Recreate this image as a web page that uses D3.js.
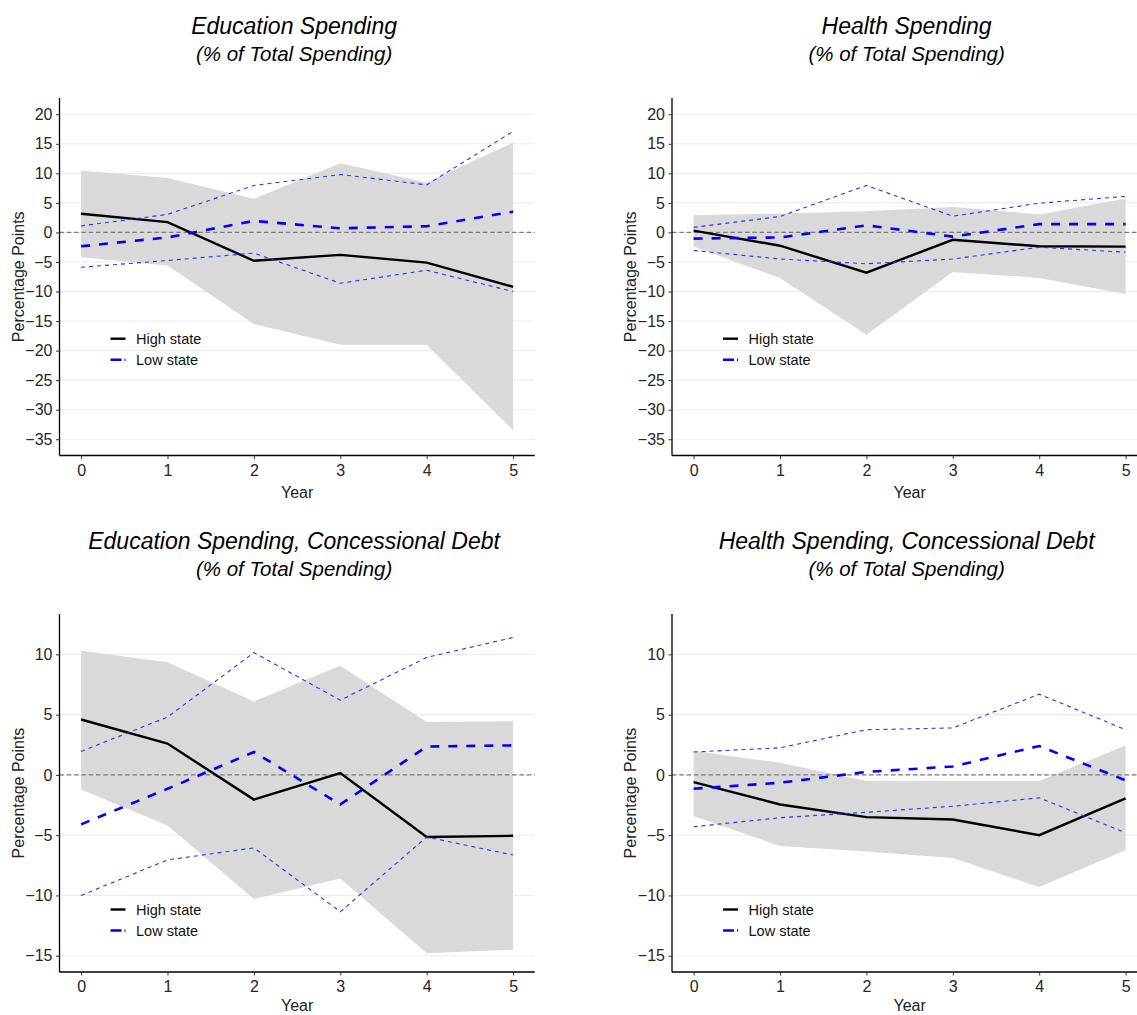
<!DOCTYPE html>
<html>
<head>
<meta charset="utf-8">
<script src="https://cdn.jsdelivr.net/npm/d3@7"></script>
<style>
  body { margin: 0; background: #fff; }
  text { font-family: "Liberation Sans", Arial, sans-serif; }
</style>
</head>
<body>
<script>
// data
const years = [0, 1, 2, 3, 4, 5];

const topTicks = [20, 15, 10, 5, 0, -5, -10, -15, -20, -25, -30, -35];
const bottomTicks = [10, 5, 0, -5, -10, -15];

// Education Spending
const eduHigh   = [3.15, 1.75, -4.8, -3.8, -5.1, -9.2];
const eduHighLo = [-4.2, -5.6, -15.5, -19.0, -19.0, -33.5];
const eduHighUp = [10.5, 9.2, 5.7, 11.7, 8.4, 15.2];
const eduLow    = [-2.35, -0.85, 1.95, 0.7, 1.05, 3.5];
const eduLowLo  = [-5.9, -4.75, -3.5, -8.6, -6.4, -10.0];
const eduLowUp  = [1.1, 3.05, 7.95, 9.8, 8.05, 17.1];

// Health Spending
const healthHigh   = [0.3, -2.25, -6.8, -1.25, -2.35, -2.4];
const healthHighLo = [-2.4, -7.7, -17.3, -6.7, -7.7, -10.4];
const healthHighUp = [2.9, 3.2, 3.6, 4.3, 3.05, 5.75];
const healthLow    = [-1.05, -0.85, 1.2, -0.7, 1.4, 1.4];
const healthLowLo  = [-3.05, -4.5, -5.3, -4.5, -2.5, -3.35];
const healthLowUp  = [0.85, 2.7, 7.95, 2.75, 4.95, 6.1];

// Education Spending, Concessional Debt
const eduConHigh   = [4.6, 2.6, -2.05, 0.15, -5.15, -5.05];
const eduConHighLo = [-1.2, -4.2, -10.3, -8.6, -14.8, -14.5];
const eduConHighUp = [10.3, 9.35, 6.1, 9.05, 4.4, 4.45];
const eduConLow    = [-4.1, -1.15, 1.9, -2.45, 2.35, 2.45];
const eduConLowLo  = [-10.0, -7.05, -6.05, -11.35, -5.15, -6.65];
const eduConLowUp  = [1.95, 4.8, 10.15, 6.2, 9.75, 11.4];

// Health Spending, Concessional Debt
const healthConHigh   = [-0.6, -2.45, -3.5, -3.7, -5.0, -1.95];
const healthConHighLo = [-3.4, -5.9, -6.35, -6.9, -9.3, -6.25];
const healthConHighUp = [2.0, 1.0, -0.5, -0.5, -0.5, 2.45];
const healthConLow    = [-1.15, -0.65, 0.25, 0.7, 2.4, -0.45];
const healthConLowLo  = [-4.3, -3.55, -3.1, -2.6, -1.9, -4.8];
const healthConLowUp  = [1.9, 2.25, 3.75, 3.9, 6.7, 3.75];

const titles = [
    "Education Spending",
    "Health Spending",
    "Education Spending, Concessional Debt",
    "Health Spending, Concessional Debt"
];
const subtitle = "(% of Total Spending)";
const legendLabels = ["High state", "Low state"];

const svg = d3.select("body")
    .append("svg")
    .attr("width", 1137)
    .attr("height", 1015);

const panels = [
    { title: titles[0], left: 59.5, top: 98, bottom: 455.5, domain: [-37.75, 22.75], ticks: topTicks,
      high: eduHigh, highLo: eduHighLo, highUp: eduHighUp, low: eduLow, lowLo: eduLowLo, lowUp: eduLowUp,
      titleY: 34, legendY: 338.7, yearOff: 42 },
    { title: titles[1], left: 672, top: 98, bottom: 455.5, domain: [-37.75, 22.75], ticks: topTicks,
      high: healthHigh, highLo: healthHighLo, highUp: healthHighUp, low: healthLow, lowLo: healthLowLo, lowUp: healthLowUp,
      titleY: 34, legendY: 338.7, yearOff: 42 },
    { title: titles[2], left: 59.5, top: 614, bottom: 972, domain: [-16.35, 13.35], ticks: bottomTicks,
      high: eduConHigh, highLo: eduConHighLo, highUp: eduConHighUp, low: eduConLow, lowLo: eduConLowLo, lowUp: eduConLowUp,
      titleY: 549, legendY: 909.5, yearOff: 38.5 },
    { title: titles[3], left: 672, top: 614, bottom: 972, domain: [-16.35, 13.35], ticks: bottomTicks,
      high: healthConHigh, highLo: healthConHighLo, highUp: healthConHighUp, low: healthConLow, lowLo: healthConLowLo, lowUp: healthConLowUp,
      titleY: 549, legendY: 909.5, yearOff: 38.5 }
];

const plotWidth = 475.2;

function drawPanel(p) {
    const x = d3.scaleLinear().domain([-0.25, 5.25]).range([p.left, p.left + plotWidth]);
    const y = d3.scaleLinear().domain(p.domain).range([p.bottom, p.top]);
    const g = svg.append("g");

    // grid
    g.selectAll(".grid")
        .data(p.ticks)
        .enter()
        .append("line")
        .attr("x1", p.left)
        .attr("x2", p.left + plotWidth)
        .attr("y1", d => y(d))
        .attr("y2", d => y(d))
        .attr("stroke", "#ebebeb")
        .attr("stroke-width", 1.1);

    const pts = years.map((yr, i) => ({ yr: yr, hi: p.high[i], hlo: p.highLo[i], hup: p.highUp[i],
        lo: p.low[i], llo: p.lowLo[i], lup: p.lowUp[i] }));

    const area = d3.area()
        .x(d => x(d.yr))
        .y0(d => y(d.hlo))
        .y1(d => y(d.hup));

    g.append("path")
        .datum(pts)
        .attr("d", area)
        .attr("fill", "#d9d9d9");

    // zero line
    g.append("line")
        .attr("x1", p.left)
        .attr("x2", p.left + plotWidth)
        .attr("y1", y(0))
        .attr("y2", y(0))
        .attr("stroke", "#7a7a7a")
        .attr("stroke-width", 1.3)
        .attr("stroke-dasharray", "4.5,2.8");

    const line = key => d3.line().x(d => x(d.yr)).y(d => y(d[key]));

    g.append("path").datum(pts).attr("d", line("hi"))
        .attr("fill", "none").attr("stroke", "#000").attr("stroke-width", 2.4);

    ["llo", "lup"].forEach(k => {
        g.append("path").datum(pts).attr("d", line(k))
            .attr("fill", "none").attr("stroke", "#2f2fff").attr("stroke-width", 1.1)
            .attr("stroke-dasharray", "4,4");
    });

    g.append("path").datum(pts).attr("d", line("lo"))
        .attr("fill", "none").attr("stroke", "#0000ff").attr("stroke-width", 2.6)
        .attr("stroke-dasharray", "9,9");

    // axes
    const yAxis = g.append("g")
        .attr("transform", `translate(${p.left}, 0)`)
        .call(d3.axisLeft(y).tickValues(p.ticks).tickSize(3.5).tickPadding(3.5).tickFormat(d3.format("d")));
    const xAxis = g.append("g")
        .attr("transform", `translate(0, ${p.bottom})`)
        .call(d3.axisBottom(x).tickValues(years).tickSize(3.5).tickPadding(5.5).tickFormat(d3.format("d")));

    [xAxis, yAxis].forEach(a => {
        a.select(".domain").attr("stroke", "#000").attr("stroke-width", 1.3);
        a.selectAll(".tick line").attr("stroke", "#333").attr("stroke-width", 1);
        a.selectAll(".tick text")
            .attr("fill", "#262626")
            .style("font-size", "16px")
            .style("font-family", "'Liberation Sans', Arial, sans-serif");
    });
    // d3 domain path adds outer ticks; flatten them
    yAxis.select(".domain").attr("d", `M0,${p.top}V${p.bottom}`);
    xAxis.select(".domain").attr("d", `M${p.left},0H${p.left + plotWidth}`);

    // titles
    const cx = p.left + plotWidth / 2 - 3;
    g.append("text")
        .attr("x", cx)
        .attr("y", p.titleY)
        .attr("text-anchor", "middle")
        .style("font-size", "23px")
        .style("font-style", "italic")
        .attr("fill", "#000")
        .text(p.title);
    g.append("text")
        .attr("x", cx)
        .attr("y", p.titleY + 27)
        .attr("text-anchor", "middle")
        .style("font-size", "20.5px")
        .style("font-style", "italic")
        .attr("fill", "#000")
        .text(subtitle);

    g.append("text")
        .attr("x", x(2.5))
        .attr("y", p.bottom + p.yearOff)
        .attr("text-anchor", "middle")
        .style("font-size", "16px")
        .attr("fill", "#222")
        .text("Year");

    g.append("text")
        .attr("transform", `translate(${p.left - 36}, ${(p.top + p.bottom) / 2}) rotate(-90)`)
        .attr("text-anchor", "middle")
        .style("font-size", "16px")
        .attr("fill", "#222")
        .text("Percentage Points");

    // legend
    const lg = g.append("g").attr("transform", `translate(${p.left + 51}, ${p.legendY})`);
    lg.append("line").attr("x1", 0).attr("x2", 15).attr("y1", 0).attr("y2", 0)
        .attr("stroke", "#000").attr("stroke-width", 2.4);
    lg.append("line").attr("x1", 0).attr("x2", 15).attr("y1", 21).attr("y2", 21)
        .attr("stroke", "#0000ff").attr("stroke-width", 2.4).attr("stroke-dasharray", "11,3");
    lg.selectAll(".lab")
        .data(legendLabels)
        .enter()
        .append("text")
        .attr("x", 25.5)
        .attr("y", (d, i) => i * 21)
        .attr("dy", "0.35em")
        .style("font-size", "14.5px")
        .attr("fill", "#111")
        .text(d => d);
}

panels.forEach(drawPanel);
</script>
</body>
</html>
